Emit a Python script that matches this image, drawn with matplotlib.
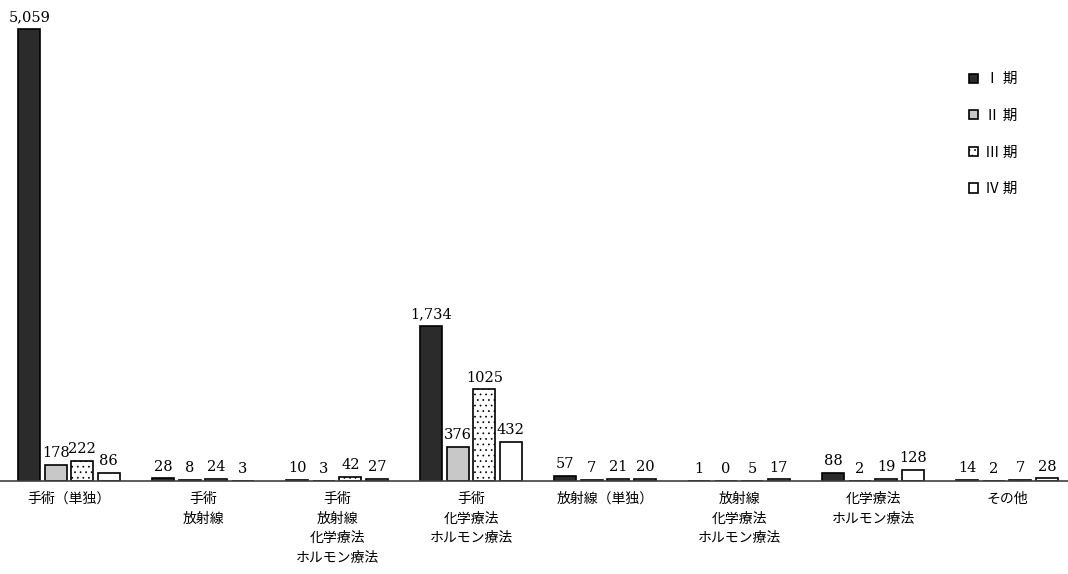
import matplotlib.pyplot as plt
import numpy as np

plt.rcParams['font.family'] = ['Noto Sans CJK JP', 'DejaVu Sans']
plt.rcParams['hatch.linewidth'] = 0.5
plt.rcParams['hatch.color'] = '#444444'

# data
categories = [
    "手術（単独）",
    "手術\n放射線",
    "手術\n放射線\n化学療法\nホルモン療法",
    "手術\n化学療法\nホルモン療法",
    "放射線（単独）",
    "放射線\n化学療法\nホルモン療法",
    "化学療法\nホルモン療法",
    "その他",
]
stages = ["Ⅰ 期", "Ⅱ 期", "Ⅲ 期", "Ⅳ 期"]
stage1 = [5059, 28, 10, 1734, 57, 1, 88, 14]
stage2 = [178, 8, 3, 376, 7, 0, 2, 2]
stage3 = [222, 24, 42, 1025, 21, 5, 19, 7]
stage4 = [86, 3, 27, 432, 20, 17, 128, 28]
label1 = ["5,059", "28", "10", "1,734", "57", "1", "88", "14"]
label2 = ["178", "8", "3", "376", "7", "0", "2", "2"]
label3 = ["222", "24", "42", "1025", "21", "5", "19", "7"]
label4 = ["86", "3", "27", "432", "20", "17", "128", "28"]

series = [stage1, stage2, stage3, stage4]
labels = [label1, label2, label3, label4]
colors = ["#2b2b2b", "#c8c8c8", "white", "white"]
hatches = [None, None, "...", None]

fig = plt.figure(figsize=(10.68, 5.74), dpi=100)
ax = fig.add_axes([0, 93 / 574, 1, 481 / 574])

x = np.arange(len(categories))
step = 0.198
width = 0.165
for i in range(4):
    pos = x + (i - 1.5) * step
    bars = ax.bar(pos, series[i], width, color=colors[i], edgecolor="black",
                  linewidth=1.2, hatch=hatches[i], label=stages[i])
    for b, txt in zip(bars, labels[i]):
        ax.text(b.get_x() + b.get_width() / 2, b.get_height() + 55, txt,
                ha="center", va="bottom", fontsize=10.5, family="DejaVu Serif")

ax.set_xlim(-0.515, 7.455)
ax.set_ylim(0, 5384)
ax.set_yticks([])
ax.set_xticks(x)
ax.set_xticklabels(categories, fontsize=10, linespacing=1.5, va="top")
ax.tick_params(axis="x", length=0, pad=8)
for s in ["top", "right", "left"]:
    ax.spines[s].set_visible(False)
ax.spines["bottom"].set_color("#404040")
ax.spines["bottom"].set_linewidth(1.2)

ax.legend(loc="upper right", bbox_to_anchor=(0.965, 0.877), frameon=False,
          fontsize=10.5, handlelength=0.6, handleheight=0.6, handletextpad=0.5,
          labelspacing=1.55)

plt.savefig("out.png", dpi=100)
